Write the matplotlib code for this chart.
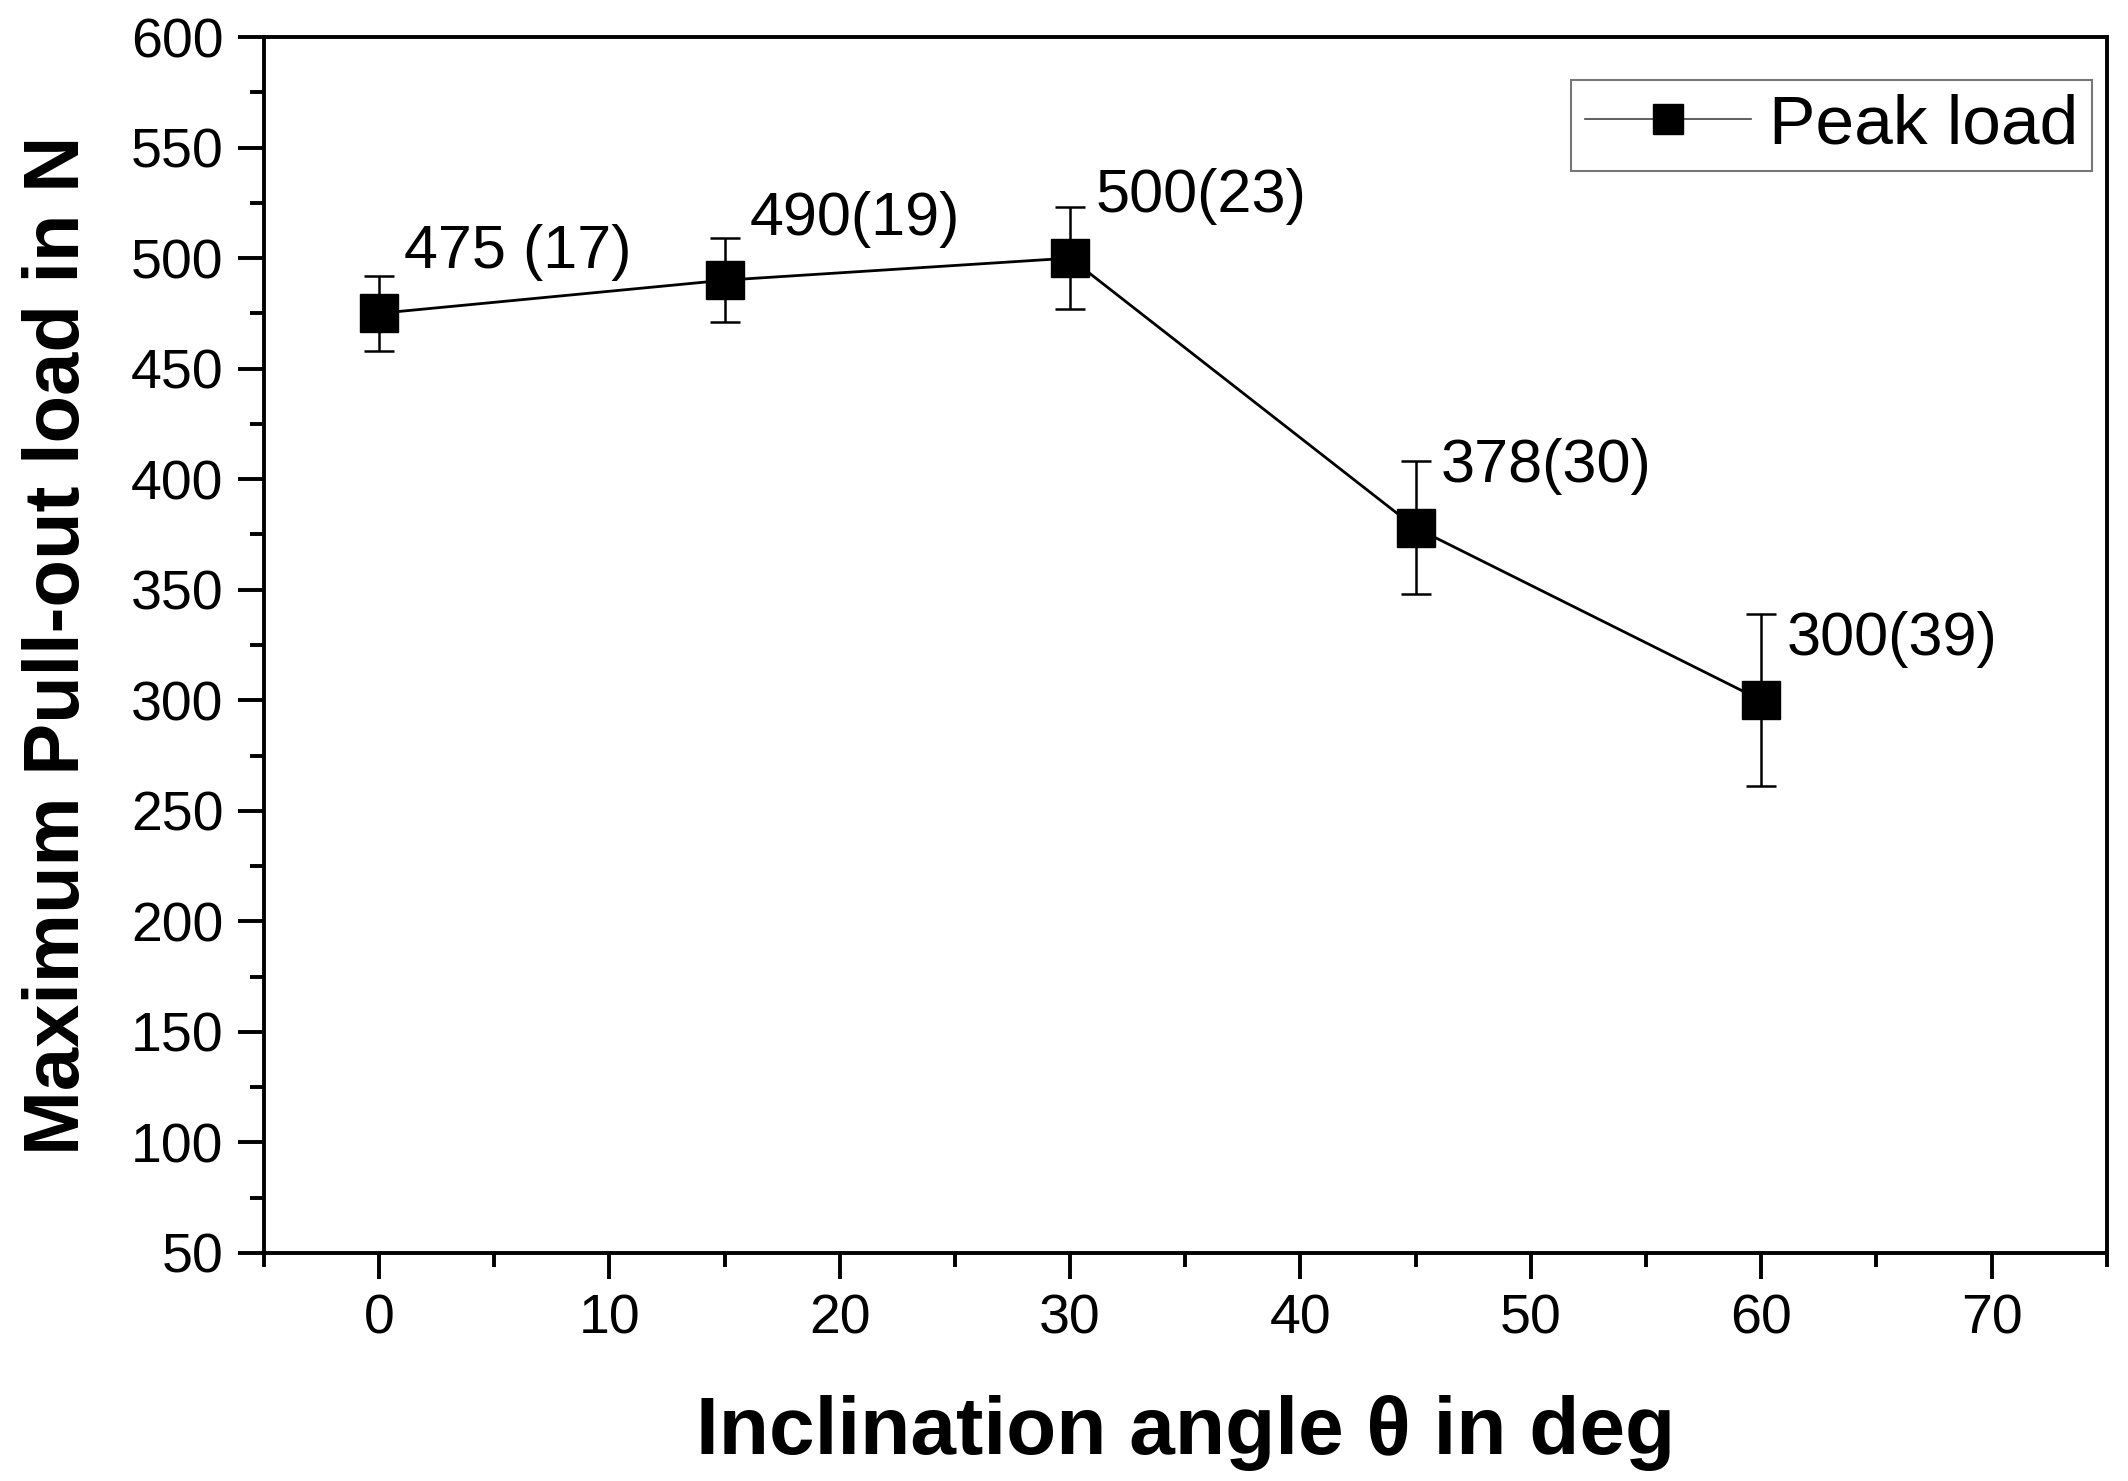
"""Peak pull-out load vs inclination angle, with error bars."""

import matplotlib
matplotlib.use("Agg")
import matplotlib.pyplot as plt
from matplotlib.lines import Line2D
from matplotlib.ticker import MultipleLocator

angles = [0, 15, 30, 45, 60]
peak_load = [475, 490, 500, 378, 300]
std_dev = [17, 19, 23, 30, 39]
point_labels = ["475 (17)", "490(19)", "500(23)", "378(30)", "300(39)"]

plt.rcParams["font.family"] = ["Liberation Sans", "DejaVu Sans"]

fig = plt.figure(figsize=(21.28, 14.81), dpi=100)
ax = fig.add_axes([0.124, 0.154, 0.866, 0.821])

ax.errorbar(angles, peak_load, yerr=std_dev, color="black", lw=2.0,
            marker="s", markersize=27, elinewidth=1.8, capsize=11,
            capthick=1.8)

for x, y, txt in zip(angles, peak_load, point_labels):
    ax.annotate(txt, (x, y), xytext=(18, 44), textcoords="offset points",
                ha="left", va="center", fontsize=44)

ax.set_xlim(-5, 75)
ax.set_ylim(50, 600)
ax.xaxis.set_major_locator(MultipleLocator(10))
ax.xaxis.set_minor_locator(MultipleLocator(5))
ax.yaxis.set_major_locator(MultipleLocator(50))
ax.yaxis.set_minor_locator(MultipleLocator(25))

ax.tick_params(which="both", direction="out", width=2.8, labelsize=40)
ax.tick_params(which="major", length=19, pad=10)
ax.tick_params(which="minor", length=10)
for sp in ax.spines.values():
    sp.set_linewidth(2.8)

ax.set_xlabel("Inclination angle θ in deg", fontsize=59, fontweight="bold",
              labelpad=36)
ax.set_ylabel("Maximum Pull-out load in N", fontsize=56, fontweight="bold",
              labelpad=26)

# legend shows only the line and marker, no error bar
handle = Line2D([], [], color="#444444", lw=1.2, marker="s", markersize=22,
                markerfacecolor="black", markeredgecolor="black")
leg = ax.legend([handle], ["Peak load"], loc="upper right", fontsize=50,
                frameon=True, fancybox=False, handlelength=2.4,
                handletextpad=0.25, borderpad=0.2, borderaxespad=0,
                bbox_to_anchor=(0.992, 0.965))
leg.get_frame().set_edgecolor("#555555")
leg.get_frame().set_linewidth(1.5)

fig.savefig("out.png", dpi=100)
